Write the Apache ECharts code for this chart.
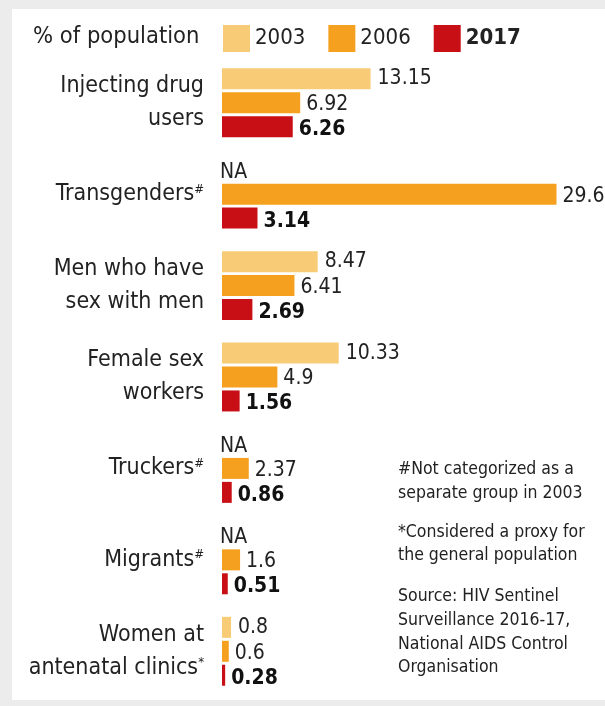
<!DOCTYPE html>
<html lang="en">
<head>
    <meta charset="UTF-8">
    <title>HIV prevalence</title>
    <script src="https://cdn.jsdelivr.net/npm/echarts@6/dist/echarts.min.js"></script>
    <style>
        html, body { margin: 0; padding: 0; background: #ececec; }
        #chart { width: 605px; height: 706px; }
    </style>
</head>
<body>
<div id="chart"></div>
<script type="text/javascript">
    var categories = ['Injecting drug\nusers', 'Transgenders#', 'Men who have\nsex with men',
        'Female sex\nworkers', 'Truckers#', 'Migrants#', 'Women at\nantenatal clinics*'];
    var years = ['2003', '2006', '2017'];
    var values2003 = [13.15, null, 8.47, 10.33, null, null, 0.8];
    var values2006 = [6.92, 29.6, 6.41, 4.9, 2.37, 1.6, 0.6];
    var values2017 = [6.26, 3.14, 2.69, 1.56, 0.86, 0.51, 0.28];
    var notes = ['#Not categorized as a', 'separate group in 2003',
        '*Considered a proxy for', 'the general population',
        'Source: HIV Sentinel', 'Surveillance 2016-17,', 'National AIDS Control', 'Organisation'];
    var noteY = [469, 493, 532, 555, 596, 620, 644, 667];

    var colors = ['#f8cb76', '#f5a01f', '#c80f16'];
    var FONT = "'Liberation Sans Narrow', 'DejaVu Sans Condensed', 'Roboto', sans-serif";

    function toBars(arr) {
        return arr.map(function (v) {
            if (v === null) {
                // no 2003 figure: show NA in the empty slot
                return {value: 0, label: {formatter: 'NA', fontWeight: 'normal', offset: [-9, 2]}};
            }
            return v;
        });
    }

    var noteTexts = notes.map(function (t, i) {
        return {
            type: 'text', x: 398, y: noteY[i],
            style: {text: t, font: '17.5px ' + FONT, fill: '#222', verticalAlign: 'middle'}
        };
    });

    var myChart = echarts.init(document.getElementById('chart'));
    var option = {
        animation: false,
        color: colors,
        graphic: [
            {type: 'rect', shape: {x: 12, y: 9, width: 593, height: 691}, style: {fill: '#fff'}, z: -10},
            {type: 'text', x: 33, y: 37, style: {text: '% of population', font: '23.5px ' + FONT, fill: '#222', verticalAlign: 'middle'}}
        ].concat(noteTexts),
        legend: {
            left: 218, top: 20,
            itemWidth: 27, itemHeight: 27, itemGap: 23,
            icon: 'rect',
            textStyle: {fontFamily: FONT, fontSize: 22, color: '#222'},
            data: [{name: '2003'}, {name: '2006'}, {name: '2017', textStyle: {fontWeight: 'bold'}}]
        },
        grid: {left: 222, top: 57, width: 378, height: 640},
        xAxis: {type: 'value', min: 0, max: 33.45, show: false},
        yAxis: {
            type: 'category', inverse: true, data: categories,
            axisLine: {show: false}, axisTick: {show: false},
            axisLabel: {
                margin: 18, fontFamily: FONT, fontSize: 23, color: '#222', lineHeight: 33, align: 'right',
                formatter: function (v) {
                    return v.replace(/([#*])$/, '{s|$1}');
                },
                rich: {s: {fontSize: 13, padding: [0, 0, 10, 0], fontFamily: FONT, color: '#222'}}
            }
        },
        series: [
            {
                name: years[0], type: 'bar', data: toBars(values2003), barWidth: 21, barGap: '14%',
                label: {show: true, position: 'right', distance: 7, fontFamily: FONT, fontSize: 21, color: '#222', offset: [0, 0]}
            },
            {
                name: years[1], type: 'bar', data: toBars(values2006), barWidth: 21, barGap: '14%',
                label: {show: true, position: 'right', distance: 6, fontFamily: FONT, fontSize: 21, color: '#222', offset: [0, 2]}
            },
            {
                name: years[2], type: 'bar', data: toBars(values2017), barWidth: 21, barGap: '14%',
                label: {show: true, position: 'right', distance: 6, fontFamily: FONT, fontSize: 21, fontWeight: 'bold', color: '#111', offset: [0, 3]}
            }
        ]
    };
    myChart.setOption(option);
</script>
</body>
</html>
